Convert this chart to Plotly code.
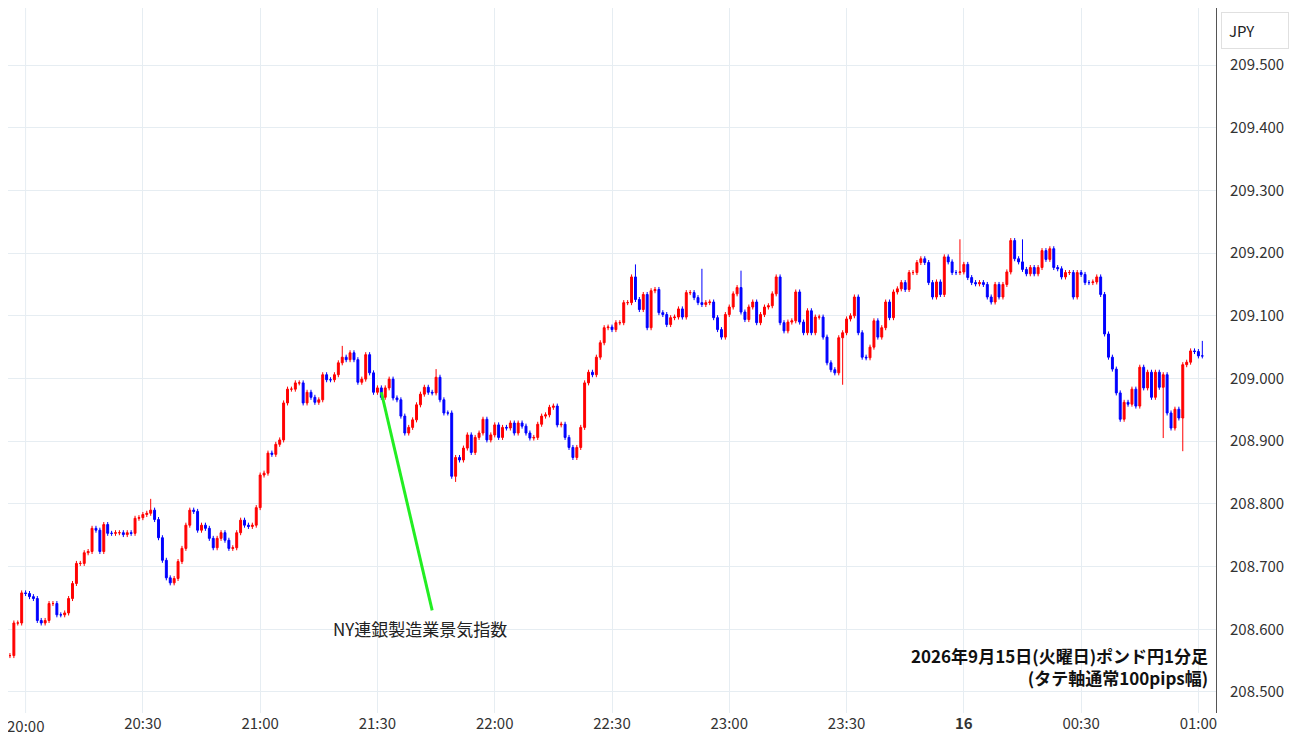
import plotly.graph_objects as go
import pandas as pd

start_time = "2026-09-15 19:56"
first_open = 208.558
closes = [
208.558,208.610,208.610,208.658,208.657,208.652,208.649,208.614,208.610,208.614,208.641,208.641,208.623,208.623,208.626,208.649,208.673,208.705,208.705,208.722,208.724,208.761,208.758,208.724,208.767,208.753,208.753,208.754,208.754,208.751,208.754,208.753,208.777,208.778,208.783,208.785,208.790,208.775,208.746,208.710,208.682,208.674,208.681,208.708,208.729,208.766,208.790,208.788,208.758,208.766,208.761,208.745,208.730,208.745,208.754,208.742,208.729,208.730,208.754,208.774,208.766,208.764,208.766,208.794,208.846,208.849,208.881,
208.879,208.895,208.902,208.961,208.983,208.983,208.993,208.993,208.961,208.978,208.970,208.962,208.966,209.006,208.998,208.998,209.006,209.025,209.034,209.030,209.041,209.030,208.994,208.999,209.038,209.009,208.978,208.985,208.970,208.985,208.999,208.969,208.966,208.940,208.913,208.922,208.934,208.958,208.975,208.986,208.978,208.977,209.002,208.966,208.945,208.945,208.844,208.874,208.870,208.889,208.910,208.882,208.906,208.913,208.935,208.902,208.910,208.926,208.906,208.922,208.921,208.929,208.913,208.929,208.924,208.913,208.905,208.906,208.927,208.940,208.942,208.954,208.956,208.926,208.927,208.906,208.890,208.874,208.890,208.922,208.993,209.010,
209.006,209.034,209.057,209.081,209.082,209.078,209.089,209.089,209.121,209.121,209.162,209.126,209.110,209.134,209.081,209.140,209.142,209.105,209.102,209.086,209.097,209.098,209.111,209.098,209.137,209.137,209.129,209.121,209.118,209.121,209.122,209.097,209.078,209.066,209.102,209.114,209.135,209.145,209.106,209.094,209.114,209.122,209.089,209.102,209.114,209.116,209.135,209.162,209.089,209.076,209.090,209.092,209.138,209.090,209.073,209.108,209.073,209.098,209.098,209.066,209.025,209.014,209.009,209.065,209.073,209.095,209.100,209.130,209.073,209.034,209.033,209.050,209.092,209.066,209.081,209.122,209.097,
209.138,209.143,209.153,209.142,209.169,209.169,209.185,209.191,209.185,209.153,209.130,209.154,209.134,209.194,209.186,209.169,209.169,209.170,209.182,209.161,209.153,209.151,209.153,209.150,209.130,209.122,209.150,209.130,209.150,209.170,209.220,209.191,209.186,209.174,209.167,209.177,209.167,209.177,209.204,209.190,209.207,209.177,209.175,209.162,209.169,209.169,209.130,209.169,209.166,209.153,209.153,209.154,209.162,209.134,209.071,209.034,209.015,208.977,208.935,208.962,208.959,208.983,208.956,209.018,208.985,209.010,208.970,209.010,208.986,209.006,208.945,208.921,208.951,208.937,209.022,209.026,209.044,209.043,209.036,209.036]

default_wick = 0.004
wick_extremes = {"20:32": ("high", 208.808), "21:21": ("high", 209.052), "21:45": ("high", 209.015),
                 "21:50": ("low", 208.835), "22:36": ("high", 209.182), "22:53": ("high", 209.175),
                 "23:03": ("high", 209.172), "23:29": ("low", 208.990), "23:59": ("high", 209.222),
                 "00:15": ("high", 209.222), "00:51": ("low", 208.905), "00:56": ("low", 208.884),
                 "01:03": ("high", 209.060)}

tick_vals = ["2026-09-15 20:30", "2026-09-15 21:00", "2026-09-15 21:30",
             "2026-09-15 22:00", "2026-09-15 22:30", "2026-09-15 23:00", "2026-09-15 23:30",
             "2026-09-16 00:00", "2026-09-16 00:30", "2026-09-16 01:00"]
tick_text = ["20:30", "21:00", "21:30", "22:00", "22:30", "23:00", "23:30", "<b>16</b>", "00:30", "01:00"]
grid_extra = "2026-09-15 20:00"
y_ticks = [208.5, 208.6, 208.7, 208.8, 208.9, 209.0, 209.1, 209.2, 209.3, 209.4, 209.5]

times = pd.date_range(start_time, periods=len(closes), freq="1min")
opens = [first_open] + closes[:-1]
highs = [max(o, c) + default_wick for o, c in zip(opens, closes)]
lows = [min(o, c) - default_wick for o, c in zip(opens, closes)]
for hm, (kind, val) in wick_extremes.items():
    h, m = map(int, hm.split(":"))
    day = "2026-09-16" if h < 12 else "2026-09-15"
    t = pd.Timestamp(f"{day} {hm}")
    idx = int(abs(times - t).argmin())
    if kind == "high":
        highs[idx] = max(highs[idx], val)
    else:
        lows[idx] = min(lows[idx], val)

fig = go.Figure(go.Candlestick(
    x=times, open=opens, high=highs, low=lows, close=closes,
    increasing=dict(line=dict(color="#ff0000", width=1), fillcolor="#ff0000"),
    decreasing=dict(line=dict(color="#0000ff", width=1), fillcolor="#0000ff"),
    whiskerwidth=0, showlegend=False))

fig.add_vline(x=grid_extra, line=dict(color="#e6edf2", width=1), layer="below")
fig.add_annotation(x=grid_extra, y=0, yref="paper", yanchor="top", yshift=0, text="20:00",
                   showarrow=False, font=dict(size=15, color="#333"))
fig.add_shape(type="line", x0="2026-09-15 21:31", y0=208.978, x1="2026-09-15 21:44", y1=208.630,
              line=dict(color="#22ee22", width=3))
fig.add_annotation(x="2026-09-15 21:41", y=208.601, text="NY連銀製造業景気指数", showarrow=False,
                   font=dict(size=17, color="#222"))
fig.add_annotation(xref="paper", yref="paper", x=0.995, y=0.03, xanchor="right", yanchor="bottom",
                   text="<b>2026年9月15日(火曜日)ポンド円1分足</b><br><b>(タテ軸通常100pips幅)</b>",
                   showarrow=False, align="right", font=dict(size=17, color="#111"))
fig.add_annotation(xref="paper", yref="paper", x=1.004, y=0.995, xanchor="left", yanchor="top",
                   text="JPY", showarrow=False, width=52, align="left",
                   font=dict(size=15, color="#222"), bordercolor="#e0e0e0", borderwidth=1,
                   borderpad=7, bgcolor="white")

fig.update_layout(
    width=1300, height=745, margin=dict(l=0, r=92, t=0, b=40),
    paper_bgcolor="white", plot_bgcolor="white",
    font=dict(family="Noto Sans CJK JP, Roboto, sans-serif", size=15, color="#333"),
    xaxis=dict(range=["2026-09-15 19:55:30", "2026-09-16 01:04:30"], tickvals=tick_vals, ticktext=tick_text,
               showgrid=True, gridcolor="#e6edf2", rangeslider=dict(visible=False), showline=False,
               zeroline=False, ticks=""),
    yaxis=dict(side="right", range=[208.4664, 209.591], tickvals=y_ticks, tickformat=".3f",
               showgrid=True, gridcolor="#e6edf2", showline=True, linecolor="#555", linewidth=1,
               zeroline=False, ticks="", ticklabelstandoff=10),
)
fig.write_html("out.html")
